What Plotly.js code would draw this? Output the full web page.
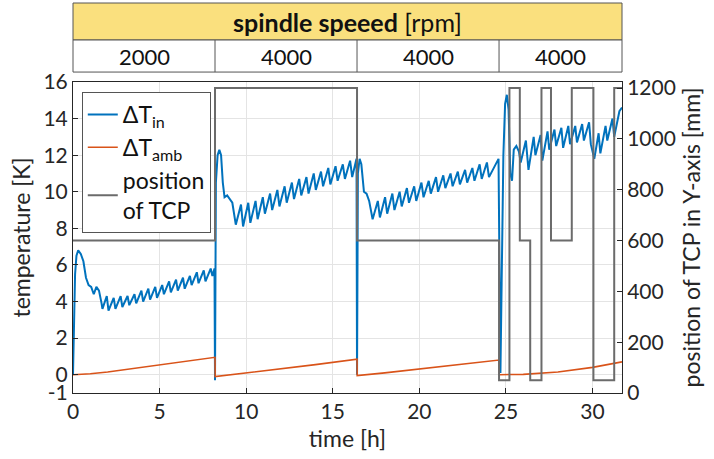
<!DOCTYPE html>
<html><head><meta charset="utf-8">
<script src="https://cdn.plot.ly/plotly-3.0.1.min.js"></script>
<style>html,body{margin:0;padding:0;background:#fff}#chart{width:714px;height:459px}</style>
</head><body><div id="chart"></div>
<script>
// ---- data ----
const segmentBounds = [0, 8.2, 16.4, 24.6, 31.7];
const spindleSpeeds = ['2000', '4000', '4000', '4000'];

// ΔT_in, per spindle-speed segment (time [h], value [K])
const seg1Time = [0,0.05,0.12,0.2,0.3,0.45,0.6,0.75,0.9,1.05,1.2,1.35,1.5,1.65,
 1.7,1.95,2.05,2.35,2.45,2.75,2.85,3.15,3.25,3.55,3.65,3.95,4.05,4.35,4.45,4.75,4.85,5.15,5.25,5.55,5.65,5.95,6.05,6.35,6.45,6.75,6.85,7.15,7.25,7.55,7.65,7.95,8.05,8.17];
const seg1Tin = [0,3.0,5.5,6.5,6.8,6.6,6.2,5.3,4.9,4.8,4.4,4.8,4.6,3.9,
 3.6,4.3,3.5,4.2,3.6,4.3,3.7,4.3,3.8,4.4,3.9,4.6,4.0,4.7,4.1,4.8,4.2,4.9,4.4,5.1,4.5,5.2,4.6,5.3,4.7,5.4,4.9,5.6,5.0,5.7,5.1,5.8,5.4,5.8];
const seg2Time = [8.2,8.25,8.35,8.45,8.55,8.65,8.75,8.9,9.05,9.2,
 9.4,9.7,9.82,10.12,10.24,10.54,10.66,10.96,11.08,11.38,11.5,11.8,11.92,12.22,12.34,12.64,12.76,13.06,13.18,13.48,13.6,13.9,14.02,14.32,14.44,14.74,14.86,15.16,15.28,15.58,15.7,16.0,16.12,16.37];
const seg2Tin = [-0.3,10.5,12.0,12.3,12.0,10.5,9.7,9.8,9.6,9.4,
 8.2,9.3,8.1,9.4,8.3,9.5,8.5,9.7,8.8,9.9,9.0,10.1,9.2,10.3,9.4,10.5,9.6,10.7,9.8,10.8,9.9,11.0,10.1,11.1,10.3,11.3,10.4,11.4,10.6,11.5,10.7,11.7,10.8,11.8];
const seg3Time = [16.4,16.45,16.55,16.65,16.8,16.95,17.1,
 17.3,17.6,17.72,18.02,18.14,18.44,18.56,18.86,18.98,19.28,19.4,19.7,19.82,20.12,20.24,20.54,20.66,20.96,21.08,21.38,21.5,21.8,21.92,22.22,22.34,22.64,22.76,23.06,23.18,23.48,23.6,23.9,24.02,24.57];
const seg3Tin = [0.0,11.0,11.8,11.5,10.0,9.9,9.5,
 8.5,9.5,8.6,9.7,8.8,9.9,9.0,10.0,9.2,10.2,9.4,10.3,9.5,10.5,9.7,10.6,9.9,10.8,10.0,10.9,10.2,11.0,10.3,11.1,10.4,11.2,10.5,11.3,10.6,11.5,10.7,11.6,10.8,11.8];
const seg4Time = [24.62,24.68,24.75,24.85,24.95,25.05,25.15,25.25,25.35,25.45,25.6,25.75,25.85,26.15,26.3,26.6,26.7,27.0,27.1,27.4,27.5,27.8,27.9,28.2,28.3,28.6,28.7,29.0,29.1,29.4,29.5,29.8,29.9,30.1,30.35,30.45,30.75,30.85,31.15,31.25,31.55,31.7];
const seg4Tin = [7.0,0.1,5.0,12.0,14.8,15.3,14.5,11.0,10.6,12.3,12.5,12.2,11.6,12.8,11.2,13.0,12.0,13.1,11.7,13.3,12.3,13.4,12.5,13.5,12.4,13.6,12.6,13.6,12.7,13.7,12.8,13.8,12.6,11.8,13.2,12.1,13.6,12.8,14.0,13.0,14.4,14.6];

const timeAmb = [0,1,2,4,6,8.2, 8.21,10,12,14,16.4, 16.41,18,20,22,24.6, 24.61,26,28,30,31.7];
const deltaTamb = [0,0.05,0.15,0.4,0.65,0.95, -0.1,0.1,0.3,0.55,0.85, -0.05,0.1,0.3,0.5,0.8, 0.0,0.02,0.15,0.4,0.7];

const timePos = [0,8.2,16.4,24.6,25.2,25.8,26.4,27.05,27.6,28.8,30.05,31.25,31.7];
const positionTCP = [600,1200,600,50,1200,600,50,1200,600,1200,50,1200,1200];

const xTicks = [0,5,10,15,20,25,30];
const yTicksLeft = [-1,0,2,4,6,8,10,12,14,16];
const yTickTextLeft = ['-1','0','2','4','6','8','10','12','14','16'];
const yTicksRight = [0,200,400,600,800,1000,1200];

const timeIn = [].concat(seg1Time, seg2Time, seg3Time, seg4Time);
const deltaTin = [].concat(seg1Tin, seg2Tin, seg3Tin, seg4Tin);

// ---- chart ----
const FONT = 'Lato, "Open Sans", sans-serif';
const AX = '#262626';
const traces = [
 {x: timeIn, y: deltaTin, name: 'ΔT<sub>in</sub>', type: 'scatter', mode: 'lines',
  line: {color: '#0072BD', width: 2}},
 {x: timeAmb, y: deltaTamb, name: 'ΔT<sub>amb</sub>', type: 'scatter', mode: 'lines',
  line: {color: '#D95319', width: 1.6}},
 {x: timePos, y: positionTCP, name: 'position<br>of TCP', type: 'scatter', mode: 'lines',
  yaxis: 'y2', line: {color: '#6b6b6b', width: 2, shape: 'hv'}}
];

const shapes = [];
const annotations = [];
const yHeadTop = 1.254, yHeadMid = 1.135, yHeadBot = 1.032;
shapes.push({type:'rect', xref:'paper', yref:'paper', x0:0, x1:1, y0:yHeadMid, y1:yHeadTop,
  fillcolor:'#fae07e', line:{color:'#555', width:1}, layer:'above'});
shapes.push({type:'rect', xref:'paper', yref:'paper', x0:0, x1:1, y0:yHeadBot, y1:yHeadMid,
  fillcolor:'#ffffff', line:{color:'#555', width:1}, layer:'above'});
for (let i = 1; i < segmentBounds.length - 1; i++) {
  shapes.push({type:'line', xref:'x', yref:'paper', x0:segmentBounds[i], x1:segmentBounds[i],
    y0:yHeadBot, y1:yHeadMid, line:{color:'#555', width:1}});
}
for (let i = 0; i < spindleSpeeds.length; i++) {
  annotations.push({xref:'x', yref:'paper', x:(segmentBounds[i]+segmentBounds[i+1])/2,
    y:(yHeadBot+yHeadMid)/2, text:spindleSpeeds[i], showarrow:false,
    font:{family:FONT, size:22, color:'#111'}, xanchor:'center', yanchor:'middle'});
}
annotations.push({xref:'paper', yref:'paper', x:0.5, y:(yHeadMid+yHeadTop)/2,
  text:'<b>spindle speeed</b> [rpm]', showarrow:false,
  font:{family:FONT, size:25, color:'#111'}, xanchor:'center', yanchor:'middle'});

const layout = {
  width: 714, height: 459,
  margin: {l: 73, r: 92, t: 82, b: 66},
  paper_bgcolor: '#fff', plot_bgcolor: '#fff',
  font: {family: FONT, size: 21, color: AX},
  showlegend: true,
  legend: {x: 0.016, y: 0.968, xanchor: 'left', yanchor: 'top',
    bgcolor: '#fff', bordercolor: '#555', borderwidth: 1,
    font: {family: FONT, size: 23, color: '#111'}, tracegroupgap: 0},
  xaxis: {range: [0, 31.7], tickvals: xTicks, ticks: 'inside', ticklen: 5, tickcolor: AX,
    showline: true, linecolor: AX, linewidth: 1, mirror: true,
    showgrid: true, gridcolor: '#e4e4e4', zeroline: false,
    tickfont: {family: FONT, size: 21, color: AX},
    title: {text: 'time [h]', font: {family: FONT, size: 23, color: AX}, standoff: 8}},
  yaxis: {range: [-1, 16], tickvals: yTicksLeft, ticktext: yTickTextLeft, ticks: 'inside', ticklen: 5, tickcolor: AX,
    showline: true, linecolor: AX, linewidth: 1,
    showgrid: true, gridcolor: '#e4e4e4', zeroline: false,
    tickfont: {family: FONT, size: 21, color: AX},
    title: {text: 'temperature [K]', font: {family: FONT, size: 23, color: AX}, standoff: 6}},
  yaxis2: {range: [0, 1224], tickvals: yTicksRight, overlaying: 'y', side: 'right',
    ticks: 'inside', ticklen: 5, tickcolor: AX,
    showline: true, linecolor: AX, linewidth: 1, showgrid: false, zeroline: false,
    tickfont: {family: FONT, size: 21, color: AX},
    title: {text: 'position of TCP in Y-axis [mm]', font: {family: FONT, size: 23, color: AX}, standoff: 8}},
  shapes: shapes,
  annotations: annotations
};
Plotly.newPlot('chart', traces, layout, {displayModeBar: false, staticPlot: true});
</script>
</body></html>
